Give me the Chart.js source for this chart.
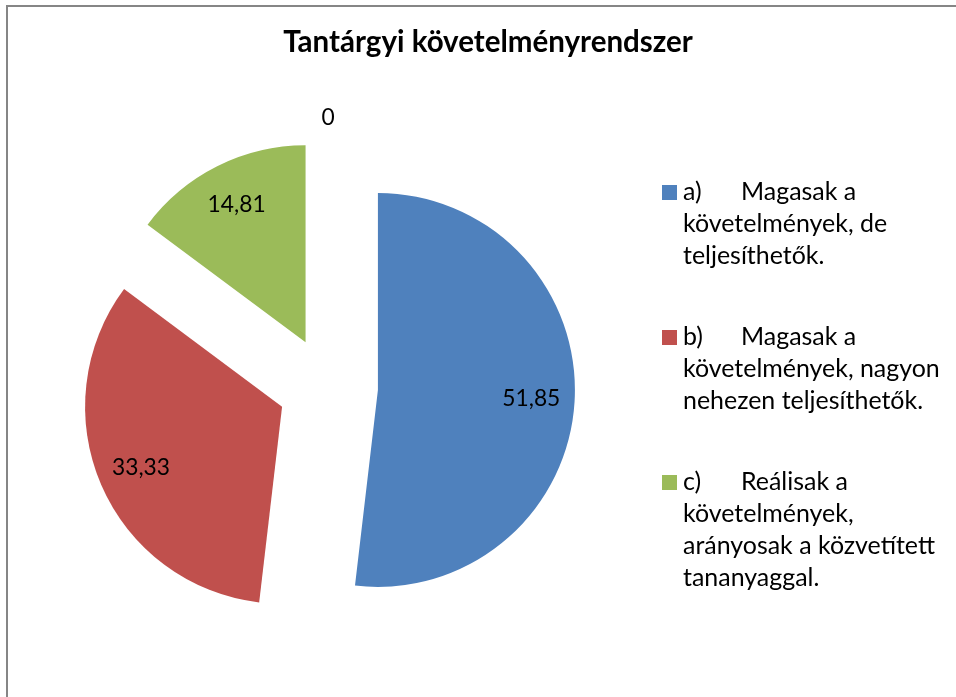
<!DOCTYPE html>
<html><head><meta charset="utf-8">
<script src="https://cdn.jsdelivr.net/npm/chart.js@4.4.0/dist/chart.umd.min.js"></script>
<style>html,body{margin:0;padding:0;background:#fff;}#wrap{position:relative;width:956px;height:697px;}</style>
</head><body><div id="wrap"><canvas id="c" width="956" height="697"></canvas></div>
<script>
const chartTitle = 'Tantárgyi követelményrendszer';
const categoryKeys = ['a)', 'b)', 'c)', ''];
const categoryTexts = [
  ['Magasak a', 'követelmények, de', 'teljesíthetők.'],
  ['Magasak a', 'követelmények, nagyon', 'nehezen teljesíthetők.'],
  ['Reálisak a', 'követelmények,', 'arányosak a közvetített', 'tananyaggal.'],
  ['']
];
const values = [51.85, 33.33, 14.81, 0];
const colors = ['#4F81BD', '#C0504D', '#9BBB59', '#8064A2'];

const EXPLODE = 50;
const FONT = 'Lato, "Open Sans", sans-serif';
function fitSize(ctx, text, weight, target) {
  ctx.font = weight + ' 100px ' + FONT;
  return 100 * target / ctx.measureText(text).width;
}
const fmt = v => Number.isInteger(v) ? String(v) : v.toFixed(2).replace('.', ',');

// Exploded pie: draw each library arc pulled out along its mid angle by EXPLODE px
// (Chart.js's own offset also trims the slice angles, which the reference does not).
const explode = {
  id: 'explode',
  beforeDatasetsDraw(chart) {
    const ctx = chart.ctx;
    const meta = chart.getDatasetMeta(0);
    meta.data.forEach(arc => {
      if (!arc.circumference) return;
      const mid = (arc.startAngle + arc.endAngle) / 2;
      ctx.save();
      ctx.translate(Math.cos(mid) * EXPLODE, Math.sin(mid) * EXPLODE);
      arc.draw(ctx);
      ctx.restore();
    });
    return false;
  }
};

const decor = {
  id: 'decor',
  beforeDraw(chart) {
    const ctx = chart.ctx;
    ctx.save();
    ctx.fillStyle = '#fff';
    ctx.fillRect(0, 0, chart.width, chart.height);
    ctx.restore();
  },
  afterDraw(chart) {
    const ctx = chart.ctx;
    ctx.save();
    ctx.strokeStyle = '#868686';
    ctx.lineWidth = 2;
    ctx.strokeRect(7, 6, 1400, 1400);

    const ts = fitSize(ctx, chartTitle, 'bold', 410);
    ctx.font = 'bold ' + ts + 'px ' + FONT;
    ctx.fillStyle = '#000';
    ctx.textAlign = 'center';
    ctx.textBaseline = 'alphabetic';
    ctx.fillText(chartTitle, 488, 52);

    const ls = fitSize(ctx, 'követelmények, nagyon', 'normal', 257);
    ctx.font = ls + 'px ' + FONT;
    ctx.textAlign = 'left';
    categoryKeys.forEach((key, i) => {
      if (!key) return;
      const y0 = 200 + i * 145;
      ctx.fillStyle = colors[i];
      ctx.fillRect(662, y0 - 15, 15, 15);
      ctx.fillStyle = '#000';
      ctx.fillText(key, 683, y0);
      categoryTexts[i].forEach((line, k) => {
        ctx.fillText(line, k === 0 ? 741 : 683, y0 + k * 32);
      });
    });

    const ds = fitSize(ctx, '51,85', 'normal', 58);
    ctx.font = ds + 'px ' + FONT;
    ctx.textAlign = 'center';
    ctx.textBaseline = 'middle';
    const meta = chart.getDatasetMeta(0);
    const R = meta.controller.outerRadius;
    const data = chart.data.datasets[0].data;
    meta.data.forEach((arc, i) => {
      const p = arc.getProps(['x', 'y', 'startAngle', 'endAngle'], true);
      const mid = (p.startAngle + p.endAngle) / 2;
      const v = data[i];
      const d = v === 0 ? R + 72 : EXPLODE + 0.78 * R;
      ctx.fillText(fmt(v), p.x + Math.cos(mid) * d, p.y + Math.sin(mid) * d);
    });
    ctx.restore();
  }
};

new Chart(document.getElementById('c'), {
  type: 'pie',
  data: {
    labels: categoryKeys.map((k, i) => (k + ' ' + categoryTexts[i].join(' ')).trim()),
    datasets: [{
      data: values,
      backgroundColor: colors,
      borderWidth: 0,
      radius: 197
    }]
  },
  options: {
    responsive: false,
    animation: false,
    layout: { padding: { left: 20, right: 320, top: 100, bottom: 23 } },
    plugins: {
      legend: { display: false },
      title: { display: false },
      tooltip: { enabled: false }
    }
  },
  plugins: [explode, decor]
});
</script>
</body></html>
